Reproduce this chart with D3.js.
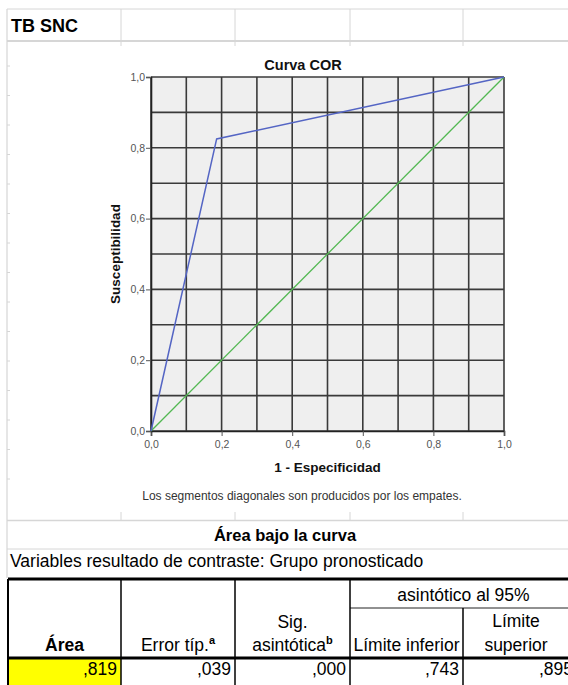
<!DOCTYPE html>
<html>
<head>
<meta charset="utf-8">
<script src="https://cdn.jsdelivr.net/npm/d3@7"></script>
<style>
  body { margin: 0; background: #fff; }
  svg { display: block; }
</style>
</head>
<body>
<div id="chart"></div>
<script>
// ROC curve points (1 - specificity, sensitivity)
const rocX = [0, 0.186, 1];
const rocY = [0, 0.825, 1];
const refX = [0, 1];
const refY = [0, 1];
const tickValues = [0, 0.2, 0.4, 0.6, 0.8, 1.0];

// summary table
const headerCols = ["Área", "Error típ.", "Sig.", "Límite inferior", "Límite"];
const tableValues = [",819", ",039", ",000", ",743", ",895"];

const W = 568, H = 685;
const svg = d3.select("#chart").append("svg")
    .attr("width", W)
    .attr("height", H)
    .style("font-family", "'Liberation Sans', Arial, sans-serif");

// ---- spreadsheet-ish frame ----
const light = "#d6d6d6";
const colLines = [121, 235, 350, 463];

svg.append("line").attr("x1", 7).attr("x2", W).attr("y1", 9).attr("y2", 9)
    .attr("stroke", light).attr("stroke-width", 1);
svg.append("line").attr("x1", 7).attr("x2", W).attr("y1", 41).attr("y2", 41)
    .attr("stroke", light).attr("stroke-width", 2);
svg.append("line").attr("x1", 7).attr("x2", 7).attr("y1", 9).attr("y2", 578)
    .attr("stroke", light).attr("stroke-width", 1.2);
colLines.forEach(x => {
    svg.append("line").attr("x1", x).attr("x2", x).attr("y1", 9).attr("y2", 41)
        .attr("stroke", light).attr("stroke-width", 1);
    svg.append("line").attr("x1", x).attr("x2", x).attr("y1", 42).attr("y2", 46)
        .attr("stroke", light).attr("stroke-width", 1);
    svg.append("line").attr("x1", x).attr("x2", x).attr("y1", 512).attr("y2", 520)
        .attr("stroke", light).attr("stroke-width", 1);
});
// small marks along left edge
d3.range(66, 500, 29.5).forEach(y => {
    svg.append("line").attr("x1", 7).attr("x2", 10).attr("y1", y).attr("y2", y)
        .attr("stroke", light).attr("stroke-width", 1);
});
svg.append("line").attr("x1", 7).attr("x2", W).attr("y1", 520.5).attr("y2", 520.5)
    .attr("stroke", light).attr("stroke-width", 1.5);
svg.append("line").attr("x1", 7).attr("x2", W).attr("y1", 549).attr("y2", 549)
    .attr("stroke", light).attr("stroke-width", 1);

svg.append("text").attr("x", 11).attr("y", 32)
    .style("font-size", "18px").style("font-weight", "bold")
    .text("TB SNC");

// ---- ROC chart ----
const plot = { left: 151, right: 504, top: 77, bottom: 431 };
const x = d3.scaleLinear().domain([0, 1]).range([plot.left, plot.right]);
const y = d3.scaleLinear().domain([0, 1]).range([plot.bottom, plot.top]);

svg.append("rect")
    .attr("x", x(0)).attr("y", y(1))
    .attr("width", x(1) - x(0)).attr("height", y(0) - y(1))
    .attr("fill", "#efefef");

const grid = d3.range(0, 1.01, 0.1);
svg.append("g").selectAll("line").data(grid).join("line")
    .attr("x1", d => x(d)).attr("x2", d => x(d))
    .attr("y1", y(0)).attr("y2", y(1))
    .attr("stroke", "#3a3a3a").attr("stroke-width", 1.6);
svg.append("g").selectAll("line").data(grid).join("line")
    .attr("x1", x(0)).attr("x2", x(1))
    .attr("y1", d => y(d)).attr("y2", d => y(d))
    .attr("stroke", "#3a3a3a").attr("stroke-width", 1.6);

const fmt = d => d3.format(".1f")(d).replace(".", ",");

const xAxis = svg.append("g")
    .attr("transform", `translate(0,${plot.bottom})`)
    .call(d3.axisBottom(x).tickValues(tickValues).tickSize(5).tickFormat(fmt));
const yAxis = svg.append("g")
    .attr("transform", `translate(${plot.left},0)`)
    .call(d3.axisLeft(y).tickValues(tickValues).tickSize(5).tickFormat(fmt));
[xAxis, yAxis].forEach(g => {
    g.select(".domain").attr("stroke", "#222").attr("stroke-width", 1.6);
    g.selectAll(".tick line").attr("stroke", "#555");
    g.selectAll(".tick text").attr("fill", "#555").style("font-size", "10.5px")
        .style("font-family", "'Liberation Sans', Arial, sans-serif");
});
xAxis.selectAll(".tick text").attr("dy", "0.85em");
yAxis.selectAll(".tick text").attr("x", -6);

const line = d3.line().x(d => x(d[0])).y(d => y(d[1]));

svg.append("path")
    .datum(d3.zip(refX, refY))
    .attr("fill", "none")
    .attr("stroke", "#52b852")
    .attr("stroke-width", 1.3)
    .attr("d", line);

svg.append("path")
    .datum(d3.zip(rocX, rocY))
    .attr("fill", "none")
    .attr("stroke", "#5465c4")
    .attr("stroke-width", 1.5)
    .attr("d", line);

svg.append("text")
    .attr("x", 303).attr("y", 70)
    .attr("text-anchor", "middle")
    .style("font-size", "14.5px").style("font-weight", "bold").attr("fill", "#111")
    .text("Curva COR");

svg.append("text")
    .attr("x", (plot.left + plot.right) / 2).attr("y", 472)
    .attr("text-anchor", "middle")
    .style("font-size", "13.5px").style("font-weight", "bold").attr("fill", "#111")
    .text("1 - Especificidad");

svg.append("text")
    .attr("transform", `translate(120,254) rotate(-90)`)
    .attr("text-anchor", "middle")
    .style("font-size", "13.5px").style("font-weight", "bold").attr("fill", "#111")
    .text("Susceptibilidad");

svg.append("text")
    .attr("x", 302).attr("y", 500)
    .attr("text-anchor", "middle")
    .style("font-size", "12px").attr("fill", "#333")
    .text("Los segmentos diagonales son producidos por los empates.");

// ---- table ----
svg.append("text")
    .attr("x", 285).attr("y", 541)
    .attr("text-anchor", "middle")
    .style("font-size", "16.5px").style("font-weight", "bold")
    .text("Área bajo la curva");

svg.append("text")
    .attr("x", 10).attr("y", 567)
    .style("font-size", "17.5px")
    .text("Variables resultado de contraste: Grupo pronosticado");

const tTop = 579, tSub = 608, tHead = 658;
const tEdges = [8, 121, 235, 350, 463, 577];

// yellow highlighted cell
svg.append("rect")
    .attr("x", tEdges[0]).attr("y", tHead)
    .attr("width", tEdges[1] - tEdges[0]).attr("height", H - tHead)
    .attr("fill", "#ffff00");

svg.append("line").attr("x1", tEdges[0]).attr("x2", W).attr("y1", tTop).attr("y2", tTop)
    .attr("stroke", "#000").attr("stroke-width", 3);
svg.append("line").attr("x1", tEdges[0]).attr("x2", W).attr("y1", tHead).attr("y2", tHead)
    .attr("stroke", "#000").attr("stroke-width", 3);
svg.append("line").attr("x1", tEdges[3]).attr("x2", W).attr("y1", tSub).attr("y2", tSub)
    .attr("stroke", "#222").attr("stroke-width", 1);
svg.append("line").attr("x1", tEdges[0]).attr("x2", tEdges[0]).attr("y1", tTop).attr("y2", H)
    .attr("stroke", "#000").attr("stroke-width", 2);
tEdges.slice(1, 4).forEach(xx => {
    svg.append("line").attr("x1", xx).attr("x2", xx).attr("y1", tTop).attr("y2", H)
        .attr("stroke", "#000").attr("stroke-width", 1.5);
});
svg.append("line").attr("x1", tEdges[4]).attr("x2", tEdges[4]).attr("y1", tSub).attr("y2", H)
    .attr("stroke", "#000").attr("stroke-width", 1.5);

const fs = "17.5px";
const mid = i => (tEdges[i] + tEdges[i + 1]) / 2;

svg.append("text").attr("x", (tEdges[3] + tEdges[5]) / 2).attr("y", 601)
    .attr("text-anchor", "middle").style("font-size", fs)
    .text("asintótico al 95%");

svg.append("text").attr("x", mid(0)).attr("y", 651)
    .attr("text-anchor", "middle").style("font-size", fs).style("font-weight", "bold")
    .text(headerCols[0]);

const errT = svg.append("text").attr("x", mid(1)).attr("y", 651)
    .attr("text-anchor", "middle").style("font-size", fs);
errT.append("tspan").text(headerCols[1]);
errT.append("tspan").attr("dy", -7).style("font-size", "11px").style("font-weight", "bold").text("a");

svg.append("text").attr("x", mid(2)).attr("y", 628)
    .attr("text-anchor", "middle").style("font-size", fs)
    .text(headerCols[2]);
const sigT = svg.append("text").attr("x", mid(2)).attr("y", 651)
    .attr("text-anchor", "middle").style("font-size", fs);
sigT.append("tspan").text("asintótica");
sigT.append("tspan").attr("dy", -7).style("font-size", "11px").style("font-weight", "bold").text("b");

svg.append("text").attr("x", mid(3)).attr("y", 651)
    .attr("text-anchor", "middle").style("font-size", fs)
    .text(headerCols[3]);

svg.append("text").attr("x", 516).attr("y", 627)
    .attr("text-anchor", "middle").style("font-size", fs)
    .text(headerCols[4]);
svg.append("text").attr("x", 516).attr("y", 651)
    .attr("text-anchor", "middle").style("font-size", fs)
    .text("superior");

tableValues.forEach((v, i) => {
    svg.append("text")
        .attr("x", tEdges[i + 1] - 4).attr("y", 675)
        .attr("text-anchor", "end").style("font-size", fs)
        .text(v);
});
</script>
</body>
</html>
